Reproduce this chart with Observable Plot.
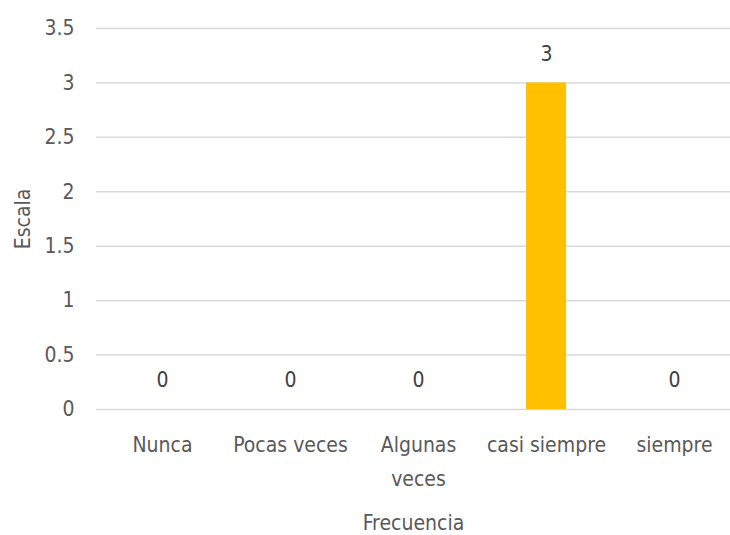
<!DOCTYPE html>
<html>
<head>
<meta charset="utf-8">
<script src="https://cdn.jsdelivr.net/npm/d3@7"></script>
<script src="https://cdn.jsdelivr.net/npm/@observablehq/plot@0.6"></script>
<style>
  html, body { margin: 0; padding: 0; background: #fff; }
  #chart svg { display: block; }
</style>
</head>
<body>
<div id="chart"></div>
<script>
const categories = ["Nunca", "Pocas veces", "Algunas veces", "casi siempre", "siempre"];
const values = [0, 0, 0, 3, 0];
const yTicks = [0, 0.5, 1, 1.5, 2, 2.5, 3, 3.5];
const tickLabels = ["Nunca", "Pocas veces", "Algunas\nveces", "casi siempre", "siempre"];

const data = categories.map((c, i) => ({cat: c, value: values[i]}));
const labelOf = new Map(categories.map((c, i) => [c, tickLabels[i]]));

const font = "'DejaVu Sans Condensed', 'DejaVu Sans', sans-serif";

const chart = Plot.plot({
  width: 730,
  height: 535,
  marginTop: 28,
  marginBottom: 126,
  marginLeft: 96,
  marginRight: 0,
  style: {fontFamily: font, fontSize: "21px", color: "#595959", background: "#fff", fontStretch: "condensed"},
  x: {domain: categories, range: [96, 740], paddingInner: 0.69, paddingOuter: 0.345},
  y: {domain: [0, 3.5]},
  marks: [
    Plot.gridY(yTicks, {stroke: "#d9d9d9", strokeOpacity: 1, strokeWidth: 1.5}),
    Plot.barY(data, {x: "cat", y: "value", fill: "#FFC000"}),
    Plot.text(data, {x: "cat", y: "value", text: d => String(d.value), dy: -29, fill: "#404040", fontSize: 21}),
    Plot.axisY(yTicks, {tickSize: 0, tickPadding: 22, label: null, tickFormat: d => String(d), fontSize: 21}),
    Plot.axisX({tickSize: 0, tickPadding: 19, tickFormat: d => labelOf.get(d), lineHeight: 1.6, fontSize: 21, label: null}),
    Plot.text(["Escala"], {frameAnchor: "left", textAnchor: "middle", dx: -73, rotate: -90, fontSize: 21, fill: "#595959"}),
    Plot.text(["Frecuencia"], {frameAnchor: "bottom", dy: 120, fontSize: 21, fill: "#595959"})
  ]
});
document.getElementById("chart").appendChild(chart);
</script>
</body>
</html>
